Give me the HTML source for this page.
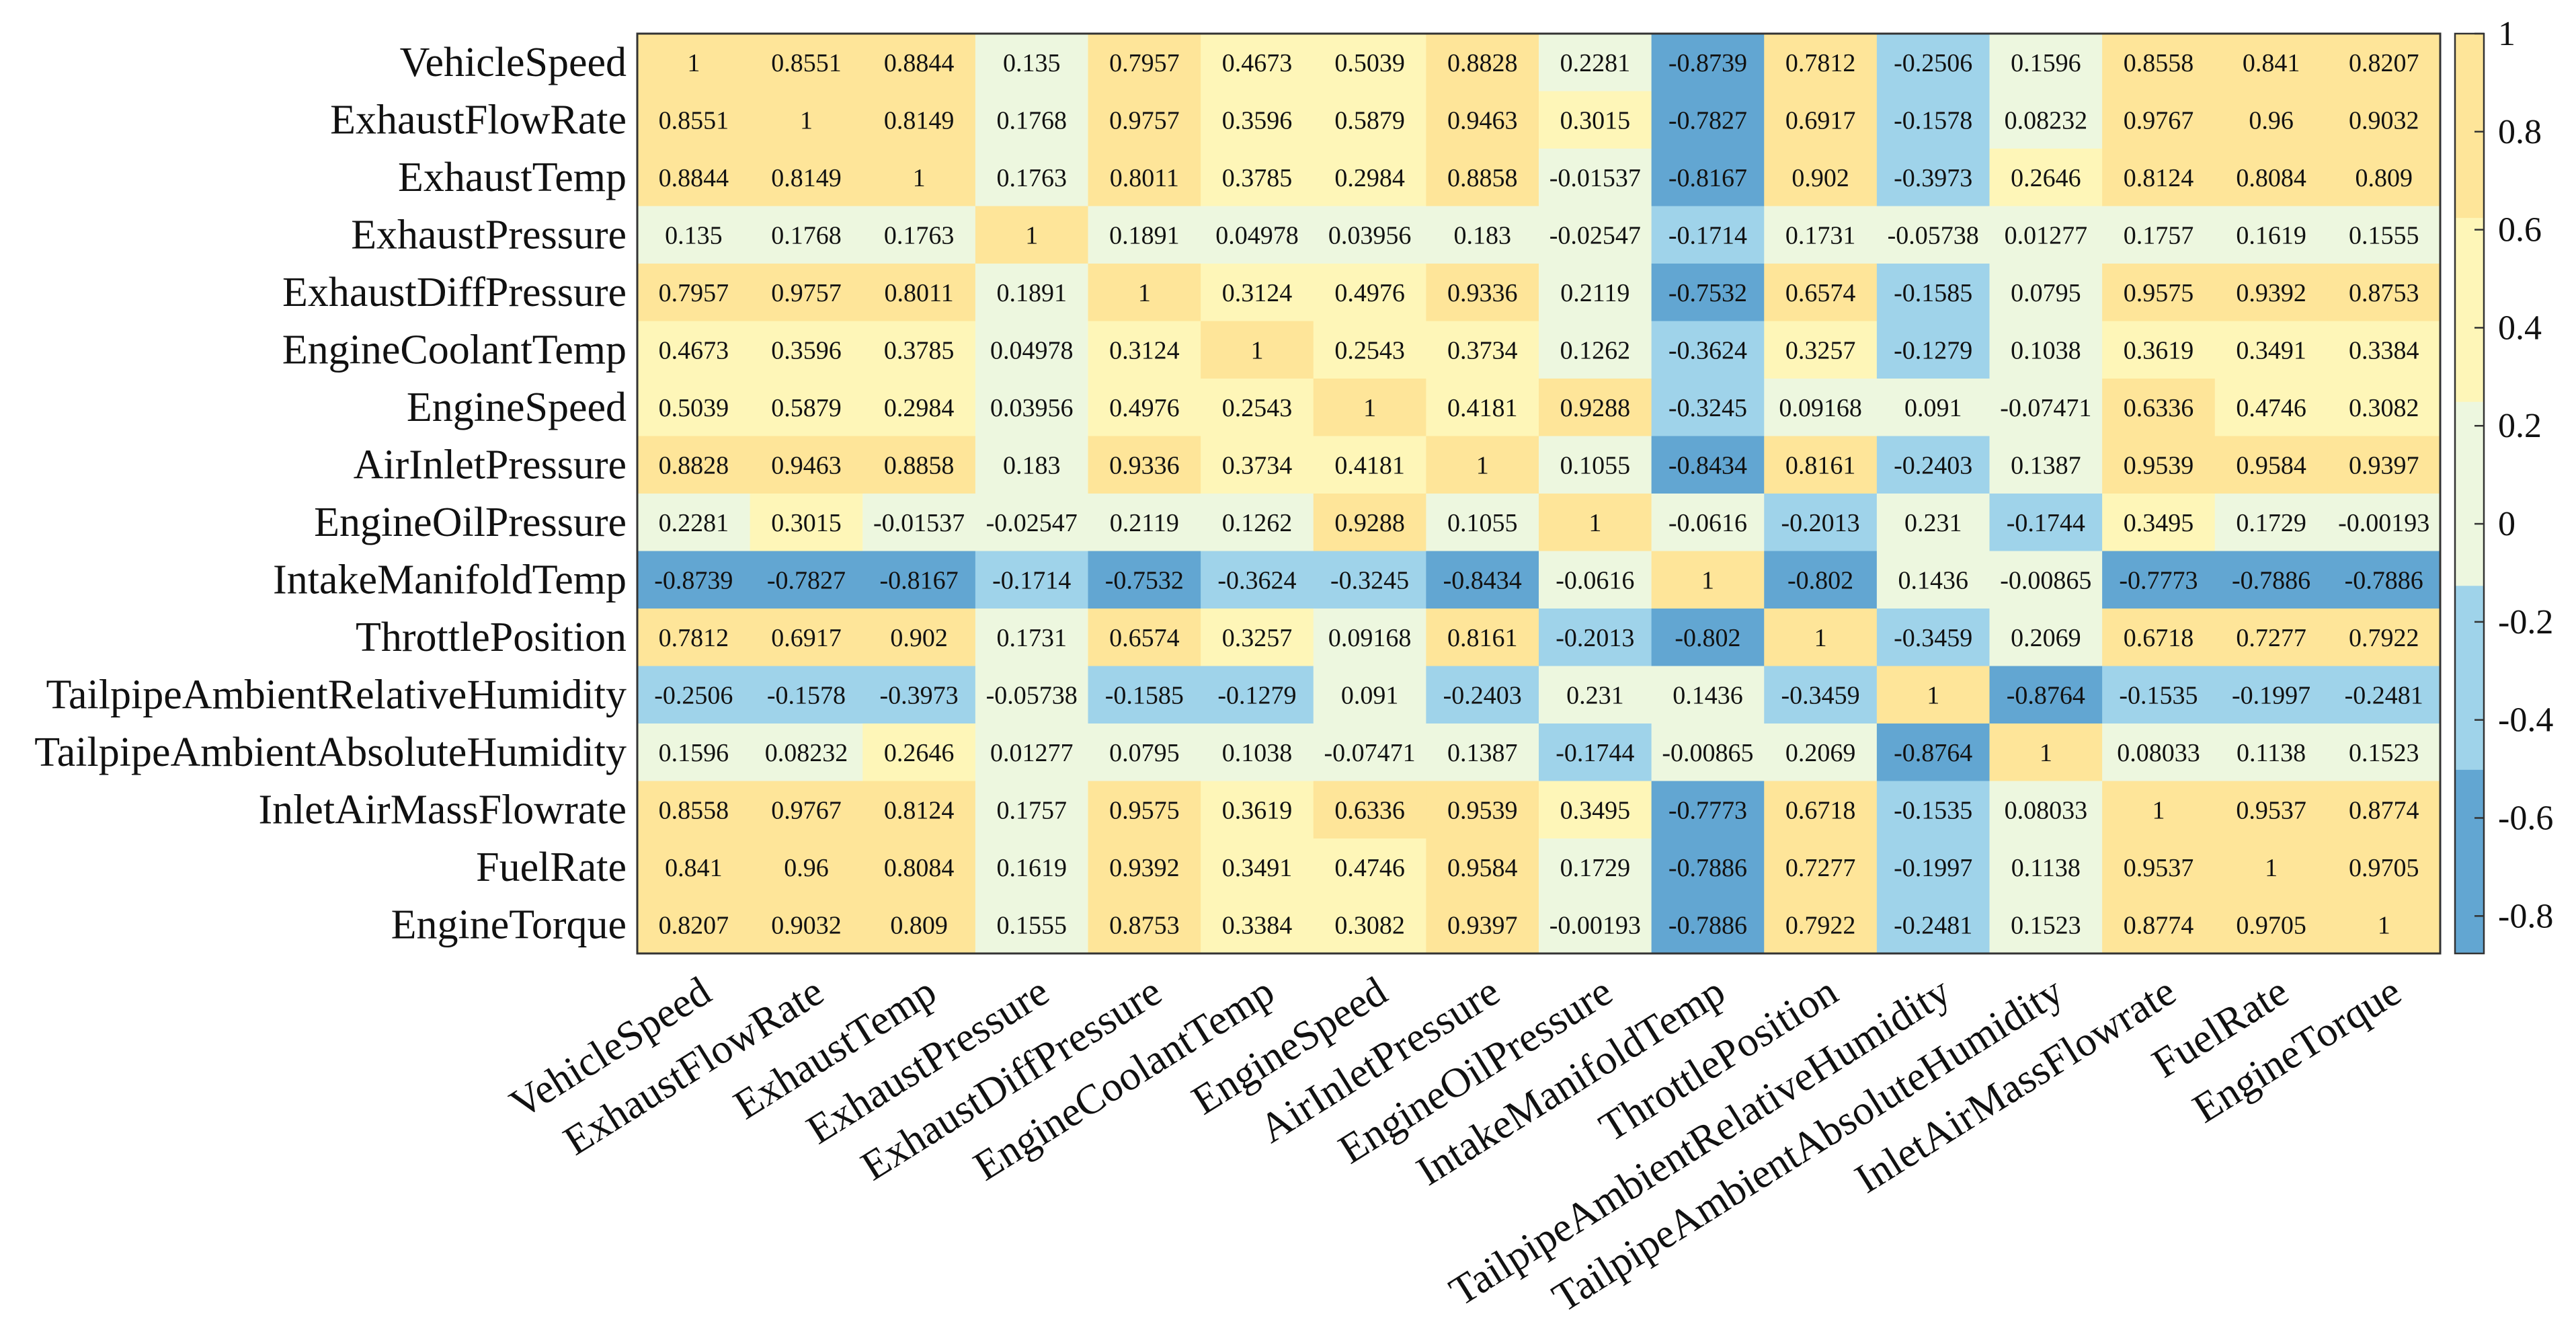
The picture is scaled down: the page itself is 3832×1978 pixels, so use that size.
<!DOCTYPE html>
<html><head><meta charset="utf-8"><style>
html,body{margin:0;padding:0;background:#fff;}
text{font-family:"Liberation Serif",serif;fill:#111;}
</style></head><body>
<svg id="chart" width="3832" height="1973" viewBox="0 0 3832 1973" xmlns="http://www.w3.org/2000/svg"></svg>
<script>
const categories=["VehicleSpeed","ExhaustFlowRate","ExhaustTemp","ExhaustPressure","ExhaustDiffPressure","EngineCoolantTemp","EngineSpeed","AirInletPressure","EngineOilPressure","IntakeManifoldTemp","ThrottlePosition","TailpipeAmbientRelativeHumidity","TailpipeAmbientAbsoluteHumidity","InletAirMassFlowrate","FuelRate","EngineTorque"];
const row0=[1,0.8551,0.8844,0.135,0.7957,0.4673,0.5039,0.8828,0.2281,-0.8739,0.7812,-0.2506,0.1596,0.8558,0.841,0.8207];
const row1=[0.8551,1,0.8149,0.1768,0.9757,0.3596,0.5879,0.9463,0.3015,-0.7827,0.6917,-0.1578,0.08232,0.9767,0.96,0.9032];
const row2=[0.8844,0.8149,1,0.1763,0.8011,0.3785,0.2984,0.8858,-0.01537,-0.8167,0.902,-0.3973,0.2646,0.8124,0.8084,0.809];
const row3=[0.135,0.1768,0.1763,1,0.1891,0.04978,0.03956,0.183,-0.02547,-0.1714,0.1731,-0.05738,0.01277,0.1757,0.1619,0.1555];
const row4=[0.7957,0.9757,0.8011,0.1891,1,0.3124,0.4976,0.9336,0.2119,-0.7532,0.6574,-0.1585,0.0795,0.9575,0.9392,0.8753];
const row5=[0.4673,0.3596,0.3785,0.04978,0.3124,1,0.2543,0.3734,0.1262,-0.3624,0.3257,-0.1279,0.1038,0.3619,0.3491,0.3384];
const row6=[0.5039,0.5879,0.2984,0.03956,0.4976,0.2543,1,0.4181,0.9288,-0.3245,0.09168,0.091,-0.07471,0.6336,0.4746,0.3082];
const row7=[0.8828,0.9463,0.8858,0.183,0.9336,0.3734,0.4181,1,0.1055,-0.8434,0.8161,-0.2403,0.1387,0.9539,0.9584,0.9397];
const row8=[0.2281,0.3015,-0.01537,-0.02547,0.2119,0.1262,0.9288,0.1055,1,-0.0616,-0.2013,0.231,-0.1744,0.3495,0.1729,-0.00193];
const row9=[-0.8739,-0.7827,-0.8167,-0.1714,-0.7532,-0.3624,-0.3245,-0.8434,-0.0616,1,-0.802,0.1436,-0.00865,-0.7773,-0.7886,-0.7886];
const row10=[0.7812,0.6917,0.902,0.1731,0.6574,0.3257,0.09168,0.8161,-0.2013,-0.802,1,-0.3459,0.2069,0.6718,0.7277,0.7922];
const row11=[-0.2506,-0.1578,-0.3973,-0.05738,-0.1585,-0.1279,0.091,-0.2403,0.231,0.1436,-0.3459,1,-0.8764,-0.1535,-0.1997,-0.2481];
const row12=[0.1596,0.08232,0.2646,0.01277,0.0795,0.1038,-0.07471,0.1387,-0.1744,-0.00865,0.2069,-0.8764,1,0.08033,0.1138,0.1523];
const row13=[0.8558,0.9767,0.8124,0.1757,0.9575,0.3619,0.6336,0.9539,0.3495,-0.7773,0.6718,-0.1535,0.08033,1,0.9537,0.8774];
const row14=[0.841,0.96,0.8084,0.1619,0.9392,0.3491,0.4746,0.9584,0.1729,-0.7886,0.7277,-0.1997,0.1138,0.9537,1,0.9705];
const row15=[0.8207,0.9032,0.809,0.1555,0.8753,0.3384,0.3082,0.9397,-0.00193,-0.7886,0.7922,-0.2481,0.1523,0.8774,0.9705,1];
const matrix=[row0,row1,row2,row3,row4,row5,row6,row7,row8,row9,row10,row11,row12,row13,row14,row15];
const colorTicks=[1,0.8,0.6,0.4,0.2,0,-0.2,-0.4,-0.6,-0.8];
const palette=["#62a6d2","#9fd3ea","#edf7df","#fef6b8","#fee599"];

const NS="http://www.w3.org/2000/svg";
const svg=document.getElementById('chart');
function mk(tag,attrs,parent){const e=document.createElementNS(NS,tag);for(const k in attrs)e.setAttribute(k,attrs[k]);(parent||svg).appendChild(e);return e;}
const L=948,R=3630,T=50,B=1418,n=categories.length;
const cw=(R-L)/n,ch=(B-T)/n;
let vmin=Infinity,vmax=-Infinity;
matrix.forEach(r=>r.forEach(v=>{vmin=Math.min(vmin,v);vmax=Math.max(vmax,v);}));
function colorOf(v){let k=Math.floor((v-vmin)/(vmax-vmin)*palette.length);if(k>=palette.length)k=palette.length-1;if(k<0)k=0;return palette[k];}
const xPos=j=>L+j*cw, yPos=i=>T+i*ch;
const g=mk('g',{});


matrix.forEach((r,i)=>r.forEach((v,j)=>{
  const c=mk('rect',{x:xPos(j),y:yPos(i),width:cw+0.6,height:ch+0.6,fill:colorOf(v)},g);
  
  
  const t=mk('text',{x:xPos(j)+cw/2,y:yPos(i)+ch/2+13,'text-anchor':'middle','font-size':38},g);
  
  
  t.textContent=String(v);
}));
const frame=mk('rect',{x:L,y:T,width:R-L,height:B-T,fill:'none',stroke:'#333','stroke-width':3});


categories.forEach((c,i)=>{
  const t=mk('text',{x:L-16,y:yPos(i)+ch/2+20,'text-anchor':'end','font-size':62});
  
  
  t.textContent=c;
  const cx=xPos(i)+cw/2+30, cy=B+68;
  const u=mk('text',{x:cx,y:cy,'text-anchor':'end','font-size':62,transform:`rotate(-32 ${cx} ${cy})`});
  
  
  u.textContent=c;
});
// colorbar
const CL=3652,CR=3695;
const cy=v=>T+(vmax-v)/(vmax-vmin)*(B-T);
palette.forEach((col,k)=>{
  const lo=vmin+k*(vmax-vmin)/palette.length, hi=vmin+(k+1)*(vmax-vmin)/palette.length;
  const r=mk('rect',{x:CL,y:cy(hi),width:CR-CL,height:cy(lo)-cy(hi)+0.5,fill:col});
  
  
});
const cf=mk('rect',{x:CL,y:T,width:CR-CL,height:B-T,fill:'none',stroke:'#333','stroke-width':2.5});


colorTicks.forEach(v=>{
  const y=cy(v);
  const l=mk('line',{x1:CR-14,x2:CR,y1:y,y2:y,stroke:'#333','stroke-width':2.5});
  
  
  const t=mk('text',{x:3716,y:y+17,'font-size':52});
  
  
  t.textContent=String(v);
});
</script>
</body></html>
